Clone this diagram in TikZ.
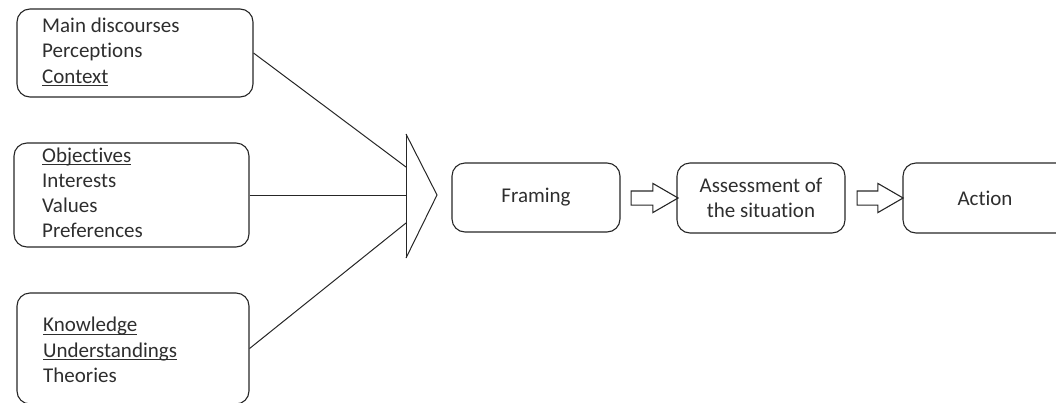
\documentclass[tikz,border=0pt]{standalone}
\usepackage{fontspec}
\setmainfont[Ligatures={NoCommon}]{Carlito}
\usetikzlibrary{shapes.arrows}
\definecolor{ink}{HTML}{262626}
\definecolor{txt}{HTML}{2E2E2E}
\newcommand\myul[1]{\setbox0\hbox{#1}\rlap{\rule[-2.6pt]{\wd0}{0.9pt}}\box0}
\tikzset{
  box/.style={draw=ink, line width=1.1pt, rounded corners=13pt, inner sep=0pt},
  lbl/.style={anchor=base west, inner sep=0pt, text=txt, font=\fontsize{21}{25.2}\selectfont},
  ctext/.style={text=txt, font=\fontsize{21}{25.2}\selectfont, align=center},
  blockarrow/.style={single arrow, draw=ink, line width=1.1pt, inner xsep=0pt, inner ysep=6.5pt,
     single arrow head extend=7.5pt, single arrow tip angle=60, minimum width=0pt},
  conn/.style={draw=ink, line width=1pt}
}
\begin{document}
\begin{tikzpicture}[x=1pt,y=-1pt]
\useasboundingbox (0,0) rectangle (1056,402);
\clip (0,0) rectangle (1056,402);
% left boxes
\node[box, minimum width=236pt, minimum height=88pt] (b1) at (135,53) {};
\node[box, minimum width=235pt, minimum height=104pt] (b2) at (131.5,195) {};
\node[box, minimum width=232pt, minimum height=111pt] (b3) at (133,348.5) {};
% texts box 1
\node[lbl] (t11) at (42,32.5) {Main discourses};
\node[lbl] (t12) at (42,57.7) {Perceptions};
\node[lbl] (t13) at (42,83) {\myul{Context}};
% texts box 2
\node[lbl] (t21) at (42,162) {\myul{Objectives}};
\node[lbl] (t22) at (42,187.2) {Interests};
\node[lbl] (t23) at (42,212.4) {Values};
\node[lbl] (t24) at (42,237.6) {Preferences};
% texts box 3
\node[lbl] (t31) at (43,331.8) {\myul{Knowledge}};
\node[lbl] (t32) at (43,357) {\myul{Understandings}};
\node[lbl] (t33) at (43,382.2) {Theories};
% big open arrow
\coordinate (atop) at (406,134);
\coordinate (abot) at (406,258);
\coordinate (atip) at (437,195);
\coordinate (in1) at (406,167);
\coordinate (in2) at (406,195);
\coordinate (in3) at (406,223);
\draw[conn] (atop) -- (abot);
\draw[conn] (atop) -- (atip) -- (abot);
\draw[conn] (b1.east) -- (in1);
\draw[conn] (b2.east) -- (in2);
\draw[conn] (b3.east) -- (in3);
% right boxes
\node[box, ctext, minimum width=168pt, minimum height=69pt] (fr) at (536,197.5) {Framing};
\node[box, ctext, minimum width=168pt, minimum height=70pt] (as) at (761,198) {Assessment of\\the situation};
\node[box, ctext, minimum width=168pt, minimum height=70pt] (ac) at (987,198) {};
\node[ctext, inner sep=0pt] (actxt) at (985,198) {Action};
% block arrows
\node[blockarrow, minimum height=47pt] (ar1) at (648.5,198) {};
\node[blockarrow, minimum height=46pt] (ar2) at (874,198) {};
\end{tikzpicture}
\end{document}
